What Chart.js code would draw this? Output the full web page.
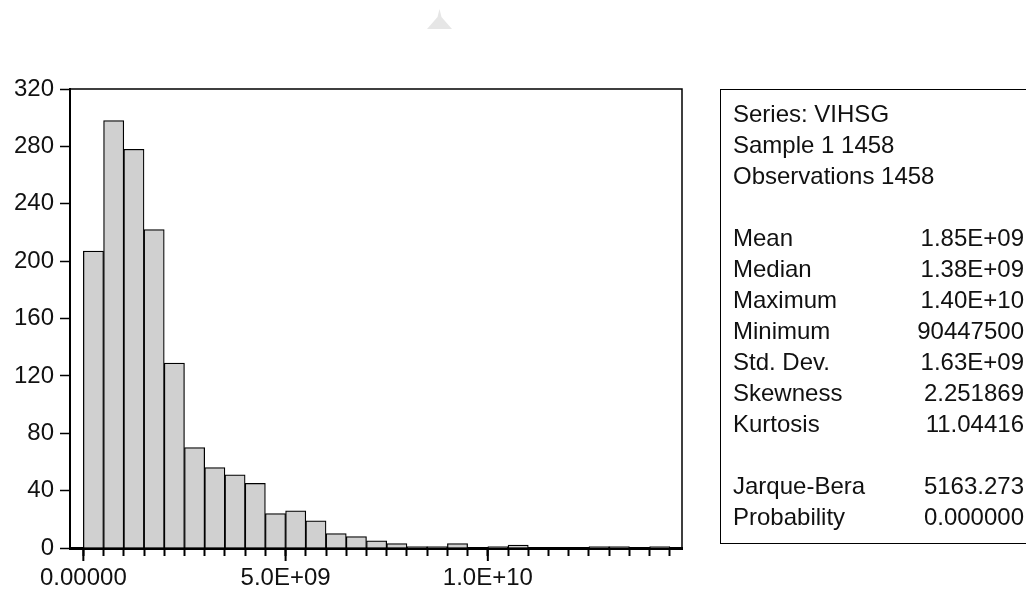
<!DOCTYPE html>
<html>
<head>
<meta charset="utf-8">
<script src="https://cdn.jsdelivr.net/npm/chart.js@4.4.0/dist/chart.umd.min.js"></script>
<style>
  html, body { margin: 0; padding: 0; background: #fff; overflow: hidden; }
  #wrap { position: relative; width: 1026px; height: 590px; }
  #hist { position: absolute; left: 0; top: 0; }
  #marker {
    position: absolute; left: 427px; top: 9px; width: 25px; height: 20px;
    background: #e6e6e6;
    clip-path: polygon(50% 0, 58% 40%, 100% 100%, 0 100%, 42% 40%);
  }
  #stats {
    position: absolute; left: 720px; top: 89px; width: 400px; height: 455px;
    border: 1.5px solid #000; box-sizing: border-box;
    font-family: "Liberation Sans", Arial, sans-serif; font-size: 24px; color: #111;
    padding: 8px 0 0 12px;
  }
  .row { display: flex; width: 291px; height: 31px; line-height: 31px; white-space: nowrap; }
  .row .k { flex: 1; }
  .row .v { text-align: right; }
  .gap { height: 31px; }
</style>
</head>
<body>
<div id="wrap">
  <canvas id="hist" width="1026" height="590"></canvas>
  <div id="marker"></div>
  <div id="stats"></div>
</div>
<script>
// histogram bins (start of each bin, in billions) and counts
const binStarts = [0.0, 0.5, 1.0, 1.5, 2.0, 2.5, 3.0, 3.5, 4.0, 4.5,
                   5.0, 5.5, 6.0, 6.5, 7.0, 7.5, 8.0, 8.5, 9.0, 9.5,
                   10.0, 10.5, 11.0, 11.5, 12.0, 12.5, 13.0, 13.5, 14.0];
const counts = [207, 298, 278, 222, 129, 70, 56, 51, 45, 24,
                26, 19, 10, 8, 5, 3, 1, 1, 3, 0,
                1, 2, 0, 0, 0, 1, 1, 0, 1];
const binWidth = 0.5;

const yTicks = [0, 40, 80, 120, 160, 200, 240, 280, 320];
const majorTickValues = [0, 5e9, 1e10];
const majorTickLabels = ['0.00000', '5.0E+09', '1.0E+10'];

const headerLines = ['Series: VIHSG', 'Sample 1 1458', 'Observations 1458'];
const statNames = ['Mean', 'Median', 'Maximum', 'Minimum', 'Std. Dev.', 'Skewness', 'Kurtosis'];
const statValues = ['1.85E+09', '1.38E+09', '1.40E+10', '90447500', '1.63E+09', '2.251869', '11.04416'];
const testNames = ['Jarque-Bera', 'Probability'];
const testValues = ['5163.273', '0.000000'];

const FONT = '"Liberation Sans", Arial, sans-serif';

// stats box
const box = document.getElementById('stats');
let html = '';
headerLines.forEach(t => { html += '<div class="row"><span class="k">' + t + '</span></div>'; });
html += '<div class="gap"></div>';
statNames.forEach((n, i) => {
  html += '<div class="row"><span class="k">' + n + '</span><span class="v">' + statValues[i] + '</span></div>';
});
html += '<div class="gap"></div>';
testNames.forEach((n, i) => {
  html += '<div class="row"><span class="k">' + n + '</span><span class="v">' + testValues[i] + '</span></div>';
});
box.innerHTML = html;

const points = binStarts.map((b, i) => ({ x: (b + binWidth / 2) * 1e9, y: counts[i] }));
const binEdges = binStarts.map(b => b * 1e9).concat((binStarts[binStarts.length - 1] + binWidth) * 1e9);

// frame on top/right and longer ticks at the labelled x values
const framePlugin = {
  id: 'frame',
  afterDraw(chart) {
    const ctx = chart.ctx;
    const a = chart.chartArea;
    const xs = chart.scales.x;
    ctx.save();
    ctx.strokeStyle = '#000';
    ctx.lineWidth = 1.5;
    ctx.beginPath();
    ctx.moveTo(a.left, a.top);
    ctx.lineTo(a.right, a.top);
    ctx.lineTo(a.right, a.bottom);
    ctx.stroke();
    ctx.lineWidth = 2;
    majorTickValues.forEach(v => {
      const px = xs.getPixelForValue(v);
      ctx.beginPath();
      ctx.moveTo(px, a.bottom);
      ctx.lineTo(px, a.bottom + 13);
      ctx.stroke();
    });
    ctx.restore();
  }
};

new Chart(document.getElementById('hist'), {
  type: 'bar',
  data: {
    datasets: [{
      data: points,
      backgroundColor: '#d0d0d0',
      borderColor: '#000',
      borderWidth: 1.25,
      barPercentage: 1,
      categoryPercentage: 1
    }]
  },
  options: {
    responsive: false,
    animation: false,
    layout: { padding: { left: 0, top: 89, right: 344, bottom: 0 } },
    plugins: { legend: { display: false }, tooltip: { enabled: false } },
    scales: {
      x: {
        type: 'linear',
        offset: false,
        min: -0.33e9,
        max: 14.8e9,
        afterBuildTicks: scale => { scale.ticks = binEdges.map(v => ({ value: v })); },
        afterFit: scale => { scale.height = 42; },
        grid: { offset: false, drawOnChartArea: false, drawTicks: true, tickLength: 8, tickWidth: 2, tickColor: '#000' },
        border: { color: '#000', width: 3 },
        ticks: {
          autoSkip: false,
          maxRotation: 0,
          padding: 8,
          color: '#111',
          font: { family: FONT, size: 24 },
          callback: value => {
            const i = majorTickValues.findIndex(m => Math.abs(m - value) < 1);
            return i >= 0 ? majorTickLabels[i] : '';
          }
        }
      },
      y: {
        min: 0,
        max: 320,
        afterBuildTicks: scale => { scale.ticks = yTicks.map(v => ({ value: v })); },
        afterFit: scale => { scale.width = 70; },
        grid: { drawOnChartArea: false, drawTicks: true, tickLength: 10, tickWidth: 1.5, tickColor: '#000' },
        border: { color: '#000', width: 2 },
        ticks: {
          padding: 6,
          color: '#111',
          font: { family: FONT, size: 24 }
        }
      }
    }
  },
  plugins: [framePlugin]
});
</script>
</body>
</html>
